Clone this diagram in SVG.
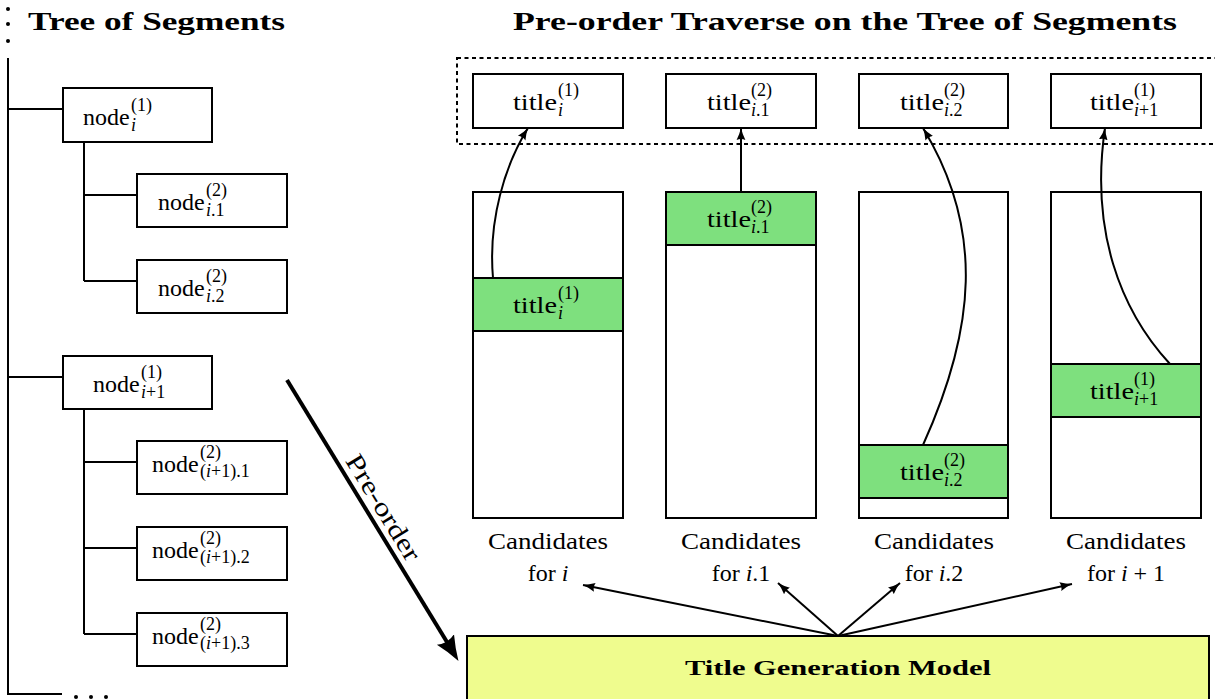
<svg xmlns="http://www.w3.org/2000/svg" width="1215" height="699" viewBox="0 0 1215 699">
<style>
text{font-family:"Liberation Serif","DejaVu Serif",serif;fill:#000}
.b{font-size:24px}
.s{font-size:18px}
.it{font-style:italic}
.h{font-size:26px;font-weight:bold}
.box{fill:#fff;stroke:#000;stroke-width:2}
.grn{fill:#7ee07e;stroke:#000;stroke-width:2}
.ln{fill:none;stroke:#000;stroke-width:2}
.ar{fill:none;stroke:#000;stroke-width:2;marker-end:url(#ah)}
</style>
<defs>
<marker id="ah" markerUnits="userSpaceOnUse" markerWidth="13" markerHeight="10" refX="12" refY="5" orient="auto">
<path d="M0,0.6 Q6,3.6 12,5 Q6,6.4 0,9.4 Q2,5 0,0.6 Z" fill="#000"/>
</marker>
<marker id="big" markerUnits="userSpaceOnUse" markerWidth="26" markerHeight="22" refX="12" refY="11" orient="auto">
<path d="M0,1 Q12,7 25,11 Q12,15 0,21 Q5,11 0,1 Z" fill="#000"/>
</marker>
</defs>

<!-- headings -->
<text class="h" x="28" y="30" textLength="257" lengthAdjust="spacingAndGlyphs">Tree of Segments</text>
<text class="h" x="513" y="30" textLength="664" lengthAdjust="spacingAndGlyphs">Pre-order Traverse on the Tree of Segments</text>

<!-- tree skeleton -->
<g id="tree-lines">
<circle cx="8" cy="9" r="2"/><circle cx="8" cy="24" r="2"/><circle cx="8" cy="41" r="2"/>
<path class="ln" d="M8,58 V694 H62"/>
<path class="ln" d="M8,109 H63 M8,377 H63"/>
<path class="ln" d="M84,142 V281 M84,195 H137 M84,281 H137"/>
<path class="ln" d="M84,409 V634 M84,462 H137 M84,548 H137 M84,634 H137"/>
<circle cx="76" cy="697" r="2"/><circle cx="91" cy="697" r="2"/><circle cx="106" cy="697" r="2"/>
</g>

<g id="node-i">
<rect class="box" x="63" y="88" width="149" height="54"/>
<text class="b" x="83" y="125">node<tspan class="s" x="131" y="111">(1)</tspan><tspan class="s it" x="131" y="131">i</tspan></text>
</g>
<g id="node-i1">
<rect class="box" x="137" y="174" width="150" height="53"/>
<text class="b" x="158" y="210">node<tspan class="s" x="206" y="196">(2)</tspan><tspan class="s" x="206" y="216"><tspan class="it">i</tspan>.1</tspan></text>
</g>
<g id="node-i2">
<rect class="box" x="137" y="260" width="150" height="53"/>
<text class="b" x="158" y="296">node<tspan class="s" x="206" y="282">(2)</tspan><tspan class="s" x="206" y="302"><tspan class="it">i</tspan>.2</tspan></text>
</g>
<g id="node-ip1">
<rect class="box" x="63" y="356" width="149" height="53"/>
<text class="b" x="93" y="392">node<tspan class="s" x="141" y="378">(1)</tspan><tspan class="s" x="141" y="398"><tspan class="it">i</tspan>+1</tspan></text>
</g>
<g id="node-ip1-1">
<rect class="box" x="137" y="441" width="150" height="53"/>
<text class="b" x="152" y="472">node<tspan class="s" x="200" y="458">(2)</tspan><tspan class="s" x="200" y="477">(<tspan class="it">i</tspan>+1).1</tspan></text>
</g>
<g id="node-ip1-2">
<rect class="box" x="137" y="527" width="150" height="53"/>
<text class="b" x="152" y="558">node<tspan class="s" x="200" y="544">(2)</tspan><tspan class="s" x="200" y="563">(<tspan class="it">i</tspan>+1).2</tspan></text>
</g>
<g id="node-ip1-3">
<rect class="box" x="137" y="613" width="150" height="53"/>
<text class="b" x="152" y="644">node<tspan class="s" x="200" y="630">(2)</tspan><tspan class="s" x="200" y="649">(<tspan class="it">i</tspan>+1).3</tspan></text>
</g>

<!-- dashed output group -->
<rect id="output-group" x="457" y="58" width="770" height="86" fill="none" stroke="#000" stroke-width="2" stroke-dasharray="4 3.5"/>

<g id="out-i">
<rect class="box" x="473" y="74" width="150" height="54"/>
<text class="b" x="513" y="110"><tspan textLength="44" lengthAdjust="spacingAndGlyphs">title</tspan><tspan class="s" x="558" y="96">(1)</tspan><tspan class="s it" x="558" y="116">i</tspan></text>
</g>
<g id="out-i1">
<rect class="box" x="666" y="74" width="150" height="54"/>
<text class="b" x="707" y="110"><tspan textLength="44" lengthAdjust="spacingAndGlyphs">title</tspan><tspan class="s" x="751" y="96">(2)</tspan><tspan class="s" x="751" y="116"><tspan class="it">i</tspan>.1</tspan></text>
</g>
<g id="out-i2">
<rect class="box" x="859" y="74" width="149" height="54"/>
<text class="b" x="900" y="110"><tspan textLength="44" lengthAdjust="spacingAndGlyphs">title</tspan><tspan class="s" x="944" y="96">(2)</tspan><tspan class="s" x="944" y="116"><tspan class="it">i</tspan>.2</tspan></text>
</g>
<g id="out-ip1">
<rect class="box" x="1051" y="74" width="150" height="54"/>
<text class="b" x="1090" y="110"><tspan textLength="44" lengthAdjust="spacingAndGlyphs">title</tspan><tspan class="s" x="1134" y="96">(1)</tspan><tspan class="s" x="1134" y="116"><tspan class="it">i</tspan>+1</tspan></text>
</g>

<!-- candidate columns -->
<g id="cand-i">
<rect class="box" x="473" y="192" width="150" height="326"/>
<rect class="grn" x="473" y="278" width="150" height="53"/>
<text class="b" x="513" y="313"><tspan textLength="44" lengthAdjust="spacingAndGlyphs">title</tspan><tspan class="s" x="558" y="299">(1)</tspan><tspan class="s it" x="558" y="319">i</tspan></text>
<text class="b" x="548" y="549" text-anchor="middle" textLength="120" lengthAdjust="spacingAndGlyphs">Candidates</text>
<text class="b" x="548" y="581" text-anchor="middle">for <tspan class="it">i</tspan></text>
</g>
<g id="cand-i1">
<rect class="box" x="666" y="192" width="150" height="326"/>
<rect class="grn" x="666" y="192" width="150" height="53"/>
<text class="b" x="707" y="227"><tspan textLength="44" lengthAdjust="spacingAndGlyphs">title</tspan><tspan class="s" x="751" y="213">(2)</tspan><tspan class="s" x="751" y="233"><tspan class="it">i</tspan>.1</tspan></text>
<text class="b" x="741" y="549" text-anchor="middle" textLength="120" lengthAdjust="spacingAndGlyphs">Candidates</text>
<text class="b" x="741" y="581" text-anchor="middle">for <tspan class="it">i</tspan>.1</text>
</g>
<g id="cand-i2">
<rect class="box" x="859" y="192" width="149" height="326"/>
<rect class="grn" x="859" y="445" width="149" height="53"/>
<text class="b" x="900" y="480"><tspan textLength="44" lengthAdjust="spacingAndGlyphs">title</tspan><tspan class="s" x="944" y="466">(2)</tspan><tspan class="s" x="944" y="486"><tspan class="it">i</tspan>.2</tspan></text>
<text class="b" x="934" y="549" text-anchor="middle" textLength="120" lengthAdjust="spacingAndGlyphs">Candidates</text>
<text class="b" x="934" y="581" text-anchor="middle">for <tspan class="it">i</tspan>.2</text>
</g>
<g id="cand-ip1">
<rect class="box" x="1051" y="192" width="150" height="326"/>
<rect class="grn" x="1051" y="364" width="150" height="53"/>
<text class="b" x="1090" y="399"><tspan textLength="44" lengthAdjust="spacingAndGlyphs">title</tspan><tspan class="s" x="1134" y="385">(1)</tspan><tspan class="s" x="1134" y="405"><tspan class="it">i</tspan>+1</tspan></text>
<text class="b" x="1126" y="549" text-anchor="middle" textLength="120" lengthAdjust="spacingAndGlyphs">Candidates</text>
<text class="b" x="1126" y="581" text-anchor="middle">for <tspan class="it">i</tspan> + 1</text>
</g>

<g id="model">
<rect x="467" y="636" width="742" height="80" fill="#effc8e" stroke="#000" stroke-width="2"/>
<text x="838" y="675" text-anchor="middle" font-size="22" font-weight="bold" textLength="306" lengthAdjust="spacingAndGlyphs">Title Generation Model</text>
</g>

<g id="connectors">
<path class="ar" d="M493,278 C488,220 505,165 528,128"/>
<path class="ar" d="M741,192 L741,128"/>
<path class="ar" d="M923,445 C975,330 985,230 923,128"/>
<path class="ar" d="M1170,364 C1120,310 1090,230 1105,128"/>
<path class="ar" d="M838,636 L583,585"/>
<path class="ar" d="M838,636 L778,583"/>
<path class="ar" d="M838,636 L900,583"/>
<path class="ar" d="M838,636 L1072,584"/>
<path d="M287,380 L451.7,649.8" fill="none" stroke="#000" stroke-width="4" marker-end="url(#big)"/>
<text x="376" y="512" text-anchor="middle" font-size="26" textLength="120" lengthAdjust="spacingAndGlyphs" transform="rotate(58.6 376 512)">Pre-order</text>
</g>
</svg>
